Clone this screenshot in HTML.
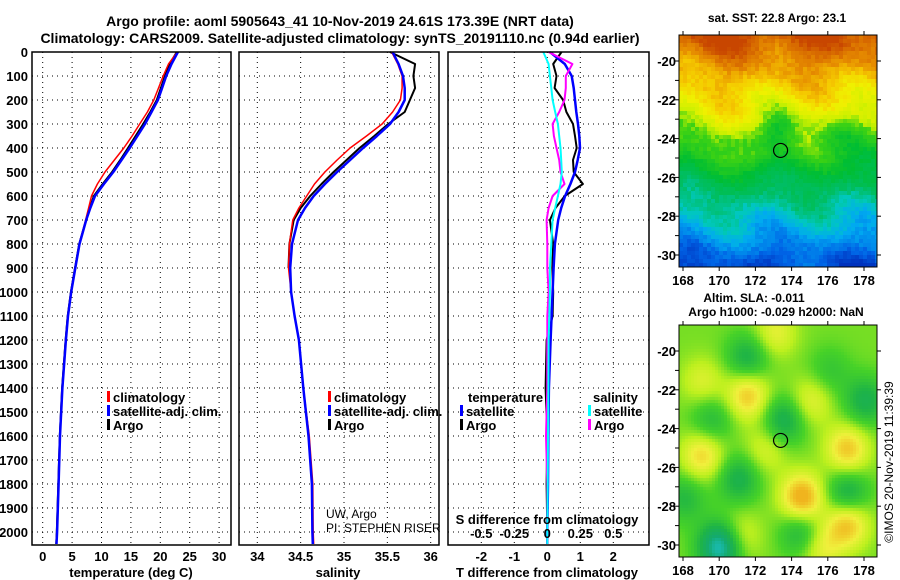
<!DOCTYPE html>
<html><head><meta charset="utf-8">
<style>
html,body{margin:0;padding:0;background:#fff;}
body{width:900px;height:580px;overflow:hidden;position:relative;font-family:"Liberation Sans",sans-serif;}
svg text{font-family:"Liberation Sans",sans-serif;}
canvas{position:absolute;image-rendering:pixelated;}
</style></head>
<body>
<canvas id="sst" width="198" height="232" style="left:679px;top:35px;"></canvas>
<canvas id="sla" width="198" height="232" style="left:679px;top:325px;"></canvas>
<svg id="chart" width="900" height="580" style="position:absolute;left:0;top:0"></svg>
<script>
// ---- data ----
const depthT = [0,50,100,150,200,250,300,350,400,450,500,550,600,650,700,800,900,1000,1100,1200,1400,1600,1800,2000,2050];
const tempArgo = [22.8,21.6,20.8,20.1,19.4,18.3,17.1,15.8,14.5,13.2,11.8,10.2,8.7,8.0,7.4,6.2,5.5,4.8,4.25,3.9,3.3,2.9,2.65,2.4,2.3];
const tempClim = [22.9,21.4,20.5,19.7,18.9,17.8,16.5,15.2,13.8,12.2,10.6,9.3,8.3,7.8,7.3,6.2,5.5,4.8,4.25,3.9,3.3,2.9,2.65,2.4,2.3];
const tempSat  = [23.0,21.9,21.0,20.3,19.6,18.5,17.4,16.1,14.8,13.4,12.0,10.4,8.9,8.1,7.4,6.25,5.55,4.85,4.3,3.95,3.35,2.95,2.7,2.45,2.35];
const depthS = [0,50,100,150,200,250,300,350,400,450,500,550,600,650,700,800,900,1000,1100,1200,1400,1600,1800,2000,2050];
const salArgo = [35.53,35.82,35.80,35.82,35.76,35.70,35.51,35.35,35.18,35.03,34.88,34.74,34.61,34.50,34.42,34.37,34.36,34.39,34.43,34.48,34.53,34.59,34.63,34.635,34.64];
const salClim = [35.55,35.62,35.67,35.67,35.65,35.56,35.44,35.26,35.07,34.92,34.78,34.66,34.57,34.48,34.41,34.37,34.36,34.39,34.43,34.48,34.53,34.6,34.64,34.645,34.65];
const salSat  = [35.56,35.63,35.68,35.70,35.70,35.63,35.53,35.38,35.22,35.07,34.92,34.78,34.65,34.55,34.47,34.40,34.38,34.39,34.43,34.48,34.53,34.59,34.63,34.635,34.64];
const dTsat  = [0.08,0.53,0.74,0.80,0.84,0.88,0.93,0.97,0.99,0.92,0.84,0.70,0.54,0.42,0.33,0.23,0.19,0.16,0.13,0.10,0.05,0.03,0.02,0.0,0.0];
const dTargo = [0.43,0.18,0.28,0.22,0.48,0.58,0.78,0.84,0.89,0.78,0.80,1.08,0.53,0.25,0.08,0.18,0.15,0.18,0.16,-0.02,-0.05,0.0,-0.02,0.0,0.0];
const dSargo = [0.01,0.19,0.14,0.14,0.13,0.09,0.04,0.05,0.07,0.09,0.10,0.13,0.04,0.01,-0.005,0.0,0.0,0.01,0.0,0.0,0.0,-0.01,0.0,0.0,0.0];
const dSsat  = [-0.03,0.01,0.02,0.03,0.04,0.06,0.08,0.09,0.10,0.105,0.11,0.10,0.08,0.06,0.04,0.03,0.02,0.02,0.015,0.01,0.008,0.005,0.003,0.0,0.0];
const depthTicks = [0,100,200,300,400,500,600,700,800,900,1000,1100,1200,1300,1400,1500,1600,1700,1800,1900,2000];
const tempTicks = [0,5,10,15,20,25,30];
const salTicks = [34,34.5,35,35.5,36];
const salTickLabels = ["34","34.5","35","35.5","36"];
const dTTicks = [-2,-1,0,1,2];
const dSTicks = [-0.5,-0.25,0,0.25,0.5];
const dSTickLabels = ["-0.5","-0.25","0","0.25","0.5"];
const latTicks = [-20,-22,-24,-26,-28,-30];
const lonTicks = [168,170,172,174,176,178];

const NS="http://www.w3.org/2000/svg";
const svg=document.getElementById('chart');
function mk(tag,attrs,parent){const e=document.createElementNS(NS,tag);for(const k in attrs)e.setAttribute(k,attrs[k]);(parent||svg).appendChild(e);return e;}
function txt(x,y,s,size,weight,anchor,fill){const t=mk('text',{x:x,y:y,'font-size':size,'font-weight':weight||'bold','text-anchor':anchor||'start',fill:fill||'#000'});t.textContent=s;return t;}

const yD=d=>52+0.24*d;
const xT=v=>42.7+5.88*v;
const xS=v=>257.3+86.7*(v-34);
const xdT=v=>547.3+33*v;
const xdS=v=>547.3+132*v;
const panels=[[32,231],[239,439],[448,649]];

// grids
panels.forEach((p,i)=>{
  const g=mk('g',{});
  
  
  depthTicks.forEach(d=>{ if(d>0) mk('line',{x1:p[0],x2:p[1],y1:yD(d),y2:yD(d),stroke:'#000','stroke-width':1,'stroke-dasharray':'1,4'},g);});
  const xs = i===0?tempTicks.map(xT):i===1?salTicks.map(xS):dTTicks.map(xdT);
  xs.forEach(x=>mk('line',{x1:x,x2:x,y1:52,y2:545,stroke:'#000','stroke-width':1,'stroke-dasharray':'1,4'},g));
});

function line(xs,ys,col,w,name){
  const pts=xs.map((x,i)=>x.toFixed(1)+','+ys[i].toFixed(1)).join(' ');
  const l=mk('polyline',{points:pts,fill:'none',stroke:col,'stroke-width':w,'stroke-linejoin':'round'});
  
  
}
// panel 1
line(tempArgo.map(xT),depthT.map(yD),'#000',2,'temp-argo-line');
line(tempClim.map(xT),depthT.map(yD),'#f00',1.5,'temp-climatology-line');
line(tempSat.map(xT),depthT.map(yD),'#00f',2.5,'temp-satellite-line');
// panel 2
line(salArgo.slice(0,17).map(xS),depthS.slice(0,17).map(yD),'#000',2,'sal-argo-line');
line(salClim.map(xS),depthS.map(yD),'#f00',1.5,'sal-climatology-line');
line(salSat.map(xS),depthS.map(yD),'#00f',2.5,'sal-satellite-line');
// panel 3
line(dTargo.map(xdT),depthT.map(yD),'#000',2,'dT-argo-line');
line(dTsat.map(xdT),depthT.map(yD),'#00f',2.5,'dT-satellite-line');
line(dSargo.map(xdS),depthS.map(yD),'#f0f',2,'dS-argo-line');
line(dSsat.map(xdS),depthS.map(yD),'#0ff',2,'dS-satellite-line');

// frames
panels.forEach((p,i)=>{
  const r=mk('rect',{x:p[0],y:52,width:p[1]-p[0],height:493,fill:'none',stroke:'#000','stroke-width':1.5});
  
  
});

// tick labels
depthTicks.forEach(d=>{const t=txt(28,yD(d)+5,String(d),13,'bold','end');});
tempTicks.forEach(v=>{const t=txt(xT(v),561,String(v),13,'bold','middle');});
salTicks.forEach((v,i)=>{const t=txt(xS(v),561,salTickLabels[i],13,'bold','middle');});
dTTicks.forEach(v=>{const t=txt(xdT(v),561,String(v),13,'bold','middle');});
dSTicks.forEach((v,i)=>{const t=txt(xdS(v),538,dSTickLabels[i],13,'bold','middle');});

let t;
t=txt(131,577,'temperature (deg C)',13,'bold','middle');
t=txt(338,577,'salinity',13,'bold','middle');
t=txt(547,577,'T difference from climatology',13,'bold','middle');
t=txt(547,524,'S difference from climatology',13,'bold','middle');
t=txt(340,26,'Argo profile: aoml 5905643_41 10-Nov-2019 24.61S 173.39E (NRT data)',14,'bold','middle');
t=txt(340,43,'Climatology: CARS2009. Satellite-adjusted climatology: synTS_20191110.nc (0.94d earlier)',14,'bold','middle');

function legend(x,y,col,label,name){
  const g=mk('g',{});
  
  
  mk('rect',{x:x,y:y-11,width:3,height:11,fill:col},g);
  const tt=mk('text',{x:x+6,y:y,'font-size':13,'font-weight':'bold'},g);tt.textContent=label;
}
legend(107,402,'#f00','climatology','legend-temp-climatology');
legend(107,416,'#00f','satellite-adj. clim.','legend-temp-satellite');
legend(107,430,'#000','Argo','legend-temp-argo');
legend(328,402,'#f00','climatology','legend-sal-climatology');
legend(328,416,'#00f','satellite-adj. clim.','legend-sal-satellite');
legend(328,430,'#000','Argo','legend-sal-argo');
t=txt(468,402,'temperature',13,'bold');
legend(460,416,'#00f','satellite','legend-dT-satellite');
legend(460,430,'#000','Argo','legend-dT-argo');
t=txt(593,402,'salinity',13,'bold');
legend(588,416,'#0ff','satellite','legend-dS-satellite');
legend(588,430,'#f0f','Argo','legend-dS-argo');
t=txt(326,518,'UW, Argo',12,'normal');
t=txt(326,532,'PI: STEPHEN RISER',12,'normal');

// ---- maps ----
const mapX0=679,mapX1=877;
const lonX=l=>683+18.1*(l-168);
function latY(top,l){return top+26+19.4*(-20-l);}
function hash(i,j){let h=i*374761393+j*668265263;h=(h^(h>>13))*1274126177;h=h^(h>>16);return ((h>>>0)%1000)/1000;}
function lerpCol(stops,v){
  if(v<=stops[0][0])return stops[0][1];
  for(let k=1;k<stops.length;k++){if(v<=stops[k][0]){const a=stops[k-1],b=stops[k],f=(v-a[0])/(b[0]-a[0]);return a[1].map((c,i)=>Math.round(c+(b[1][i]-c)*f));}}
  return stops[stops.length-1][1];
}
// SST
(function(){
  const c=document.getElementById('sst').getContext('2d');
  const stops=[[0,[0,50,190]],[0.08,[0,100,230]],[0.18,[0,170,240]],[0.26,[0,200,190]],[0.34,[0,190,100]],[0.45,[0,190,50]],[0.57,[60,210,20]],[0.63,[200,240,0]],[0.72,[240,240,0]],[0.8,[245,200,0]],[0.88,[230,140,0]],[1,[200,70,0]]];
  const b=4;
  for(let j=0;j<232;j+=b)for(let i=0;i<198;i+=b){
    const lon=168+(i-4)/18.1, lat=-20-(j-26)/19.4;
    let v=(lat+31)/12.5;
    v+=0.04*Math.sin(lon*1.3)+0.03*Math.cos(lat*2+lon);
    v-=0.12*Math.exp(-((lon-173.2)**2/0.6+(lat+23.3)**2/0.8));
    v+=0.1*Math.exp(-((lon-172)**2/1.5+(lat+24.8)**2/0.4));
    v-=0.06*Math.exp(-((lon-176.5)**2/1+(lat+23.5)**2/0.6));
    v+=0.05*Math.exp(-((lon-170)**2/3+(lat+23)**2/1));
    v+=(hash(i,j)-0.5)*0.05;
    const col=lerpCol(stops,v);
    c.fillStyle='rgb('+col.join(',')+')';c.fillRect(i,j,b,b);
  }
})();
// SLA
const blobs=[[171.5,-22.2,1.0],[169,-25.3,0.9],[174.5,-27.5,1.3],[177,-25,1.0],[177,-28.8,1.1],[173,-19,0.6],[175,-22.5,0.6],[169,-21.5,0.5],[172.5,-25,0.5],[171,-29.5,0.6],[175.5,-30,0.7],
 [171.5,-20.3,-0.8],[173.5,-23.5,-0.9],[169.5,-23.5,-0.6],[171,-26.5,-0.8],[177,-27.3,-0.9],[178,-22.5,-0.8],[170,-30,-1.7],[174.5,-29.3,-0.8],[168,-27.5,-0.6],[176,-21,-0.4]];
(function(){
  const c=document.getElementById('sla').getContext('2d');
  const stops=[[-1.6,[30,200,230]],[-1.0,[20,170,110]],[-0.5,[30,180,70]],[0,[70,210,40]],[0.45,[190,240,30]],[0.85,[240,240,60]],[1.3,[240,180,30]]];
  const b=3;
  for(let j=0;j<232;j+=b)for(let i=0;i<198;i+=b){
    const lon=168+(i-4)/18.1, lat=-20-(j-26)/19.4;
    let v=0.18;
    blobs.forEach(q=>{v+=q[2]*Math.exp(-((lon-q[0])**2/1.4+(lat-q[1])**2/1.6));});
    const col=lerpCol(stops,v);
    c.fillStyle='rgb('+col.join(',')+')';c.fillRect(i,j,b,b);
  }
})();
[[35,'sst'],[325,'sla']].forEach(([top,nm])=>{
  const g=mk('g',{});
  
  
  mk('rect',{x:mapX0,y:top,width:mapX1-mapX0,height:232,fill:'none',stroke:'#000','stroke-width':1},g);
  latTicks.forEach(l=>{const y=latY(top,l);mk('line',{x1:mapX0-5,x2:mapX0,y1:y,y2:y,stroke:'#000'},g);mk('line',{x1:mapX1,x2:mapX1+4,y1:y,y2:y,stroke:'#000'},g);
    const tt=mk('text',{x:mapX0-3,y:y+5,'font-size':13,'font-weight':'bold','text-anchor':'end'},g);tt.textContent=String(l);});
  [-21,-23,-25,-27,-29].forEach(l=>{const y=latY(top,l);mk('line',{x1:mapX0-4,x2:mapX0,y1:y,y2:y,stroke:'#000'},g);});
  lonTicks.forEach(l=>{const x=lonX(l);mk('line',{x1:x,x2:x,y1:top-4,y2:top,stroke:'#000'},g);mk('line',{x1:x,x2:x,y1:top+232,y2:top+236,stroke:'#000'},g);
    const tt=mk('text',{x:x,y:top+250,'font-size':13,'font-weight':'bold','text-anchor':'middle'},g);tt.textContent=String(l);});
  const ci=mk('circle',{cx:lonX(173.39),cy:latY(top,-24.61),r:7,fill:'none',stroke:'#000','stroke-width':1.2},g);
  
  
});
t=txt(777,22,'sat. SST: 22.8 Argo: 23.1',12,'bold','middle');
t=txt(754,302,'Altim. SLA: -0.011',12,'bold','middle');
t=txt(776,316,'Argo h1000: -0.029 h2000: NaN',12,'bold','middle');
t=mk('text',{x:0,y:0,'font-size':12,'text-anchor':'middle',transform:'translate(893,462) rotate(-90)'});t.textContent='©IMOS 20-Nov-2019 11:39:39';


</script>
</body></html>
